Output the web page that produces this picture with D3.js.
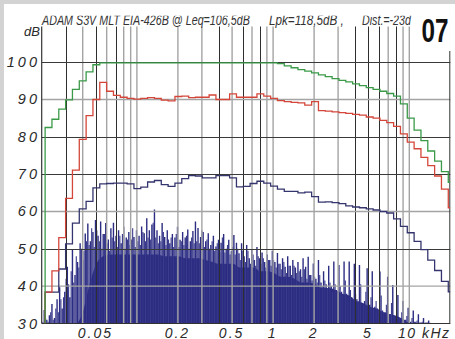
<!DOCTYPE html>
<html><head><meta charset="utf-8">
<script src="https://cdn.jsdelivr.net/npm/d3@7"></script>
<style>body{margin:0;background:#fff}svg{display:block}</style>
</head><body><svg id="c" width="455" height="339"></svg>
<script>
// ---------- data ----------
// 1/6-octave bands, centre k = 20 Hz * 2^(k/6), k = 0..60
const greenMax = [null, 82.5, 84.7, 87.4, 89.9, 92.7, 95.0, 97.4, 99.3,
  99.8, 99.8, 99.8, 99.8, 99.8, 99.8, 99.8, 99.8, 99.8, 99.8, 99.8, 99.8, 99.8,
  99.8, 99.8, 99.8, 99.8, 99.8, 99.8, 99.8, 99.8, 99.8, 99.8, 99.8, 99.8, 99.8,
  99.6, 99.0, 98.5, 98.0, 97.6, 97.1, 96.6, 96.1, 95.6, 95.1, 94.7, 94.2, 93.7,
  93.2, 92.7, 92.2, 91.6, 90.9, 88.8, 85.0, 81.8, 79.0, 76.2, 73.5, 70.7, 67.8];
const redLevel = [null, 38.4, 44.1, 53.0, 63.5, 71.1, 79.3, 85.7, 90.0, 94.6,
  92.2, 91.1, 90.6, 90.3, 90.1, 90.3, 90.5, 90.3, 89.8, 89.6, 90.8, 90.9, 90.5,
  90.6, 90.6, 91.2, 90.0, 90.0, 91.5, 90.6, 90.6, 90.6, 91.5, 90.9, 90.3, 89.7,
  89.4, 89.2, 89.1, 88.5, 89.4, 87.0, 86.9, 86.7, 86.5, 86.3, 86.0, 85.8, 85.3,
  85.0, 84.4, 83.8, 82.8, 80.8, 78.6, 76.8, 74.5, 72.3, 69.5, 66.0, 61.0];
const navyLevel = [null, 38.4, 38.4, 44.6, 51.3, 56.9, 60.7, 62.7, 66.3, 67.4,
  67.5, 67.6, 67.6, 67.4, 66.1, 66.5, 67.9, 68.3, 67.2, 66.7, 67.6, 68.8, 69.6,
  69.5, 69.0, 69.0, 69.6, 69.6, 69.0, 66.6, 66.7, 67.5, 68.1, 67.6, 66.8, 66.0,
  65.4, 65.4, 65.0, 65.2, 64.0, 62.5, 62.6, 62.4, 62.1, 61.5, 61.2, 61.0, 60.7,
  60.4, 60.0, 59.6, 58.0, 56.0, 54.3, 52.0, 49.8, 47.0, 44.2, 41.3, 38.5];
// dense part of the FFT spectrum, per 1/6-octave band
const specBody = [30, 30, 30, 30, 30, 30, 33, 40.5, 46, 48, 48.5, 48.5, 48.5,
  48.5, 48.5, 48.5, 48.5, 48.5, 48, 48, 48, 47.5, 47.5, 47.5, 47,
  46.5, 46, 46, 46, 45, 45, 45, 44, 44, 43.5, 42.5, 42.5, 42, 41, 41, 40.5,
  39.5, 39.5, 39, 38, 37.5, 36, 35.5, 34.5, 34, 33, 32.5, 32, 31, 30, 30, 30, 30, 30, 30, 30];
// spectrum spike tops, 1/16-octave steps from 20 Hz
const specPeak = [30.5, 33.6, 31, 32.2, 35.2, 31.5, 36.5, 39.7, 34, 38.5,
  45.2, 37, 49.7, 43, 46.5, 51.5, 47, 54.1, 56.8, 52,
  54.5, 57.7, 53.5, 57.3, 54, 56.9, 52.5, 55.5, 57, 53.5,
  55, 51.5, 55.9, 53, 54.5, 52.5, 53.2, 55, 53.5, 56,
  54.2, 58.2, 55, 56.5, 60.5, 55, 53.5, 56.9, 53.2, 55,
  51.5, 54, 53, 55.9, 52.4, 54.5, 53, 55.2, 52, 54.8,
  57.3, 55.6, 53.2, 54.5, 52, 54.2, 51, 53.5, 50.6, 52.4,
  51.6, 54, 50, 52.4, 49.5, 53.7, 51.6, 48.8, 51.5, 48,
  51, 47.5, 49.8, 47, 50.5, 47.5, 49, 46.5, 48.5, 47,
  49.5, 46.5, 48.9, 46, 47.5, 45.2, 48, 45.5, 47, 45,
  46.5, 44.5, 47.5, 45.2, 47.9, 43, 46.1, 42, 47, 41,
  44, 40.5, 45.5, 40, 46.6, 39, 45.7, 38.5, 46.6, 38,
  46.6, 37, 46, 36.5, 45.7, 35.5, 36, 44.8, 35, 44,
  34.5, 34, 43.9, 33.5, 33, 42.5, 32.5, 40.3, 32, 37.6,
  31.5, 36, 31, 34.2, 30.5, 33.5, 30.5, 32.5, 30.3, 31.5,
  30.3, 30.8];
// secondary spike tops, half-way between the main ones
const specPeakMid = [30.3, 31.5, 30.5, 33, 31, 34, 33, 36.5, 37, 42, 40.5, 44, 41, 48, 45, 50, 49.5, 52,
  51, 55.5, 50.5, 55, 52, 50, 54, 51.5, 49.5, 53, 52, 50.5, 53.5,
  54, 50, 52.5, 51, 55.5, 50.5, 52, 51, 54.5, 52, 53, 52.5, 57, 53, 51.5,
  52, 54.5, 51, 52.5, 53, 50.5, 54, 50.5, 52, 51, 53.5, 50, 53, 51.5, 52,
  51.5, 55, 50.5, 52.5, 50, 52, 49.5, 51.5, 49, 53, 49, 51, 48.5, 50.5, 48.5, 50,
  47, 49.5, 46.5, 49.5, 46, 48.5, 45.5, 48, 46, 47.5, 45, 47, 45.5, 47, 45,
  46, 44.5, 46.5, 43.5, 45.5, 43, 45.5, 43.5, 44, 42.5, 44.5, 42, 43,
  41.5, 42.5, 41, 43, 40, 41.5, 39.5, 41, 38.5, 40.5, 38, 40, 37.5, 41.5, 37, 39,
  36.5, 38, 36, 40.5, 35, 38.5, 34.5, 37, 34, 36, 33.5, 37.5, 33, 35, 32.5, 35.5,
  32, 33.5, 31.5, 33, 31, 32, 30.8, 31.5, 30.5, 30.8, 30.3, 30.5, 30.2, 30.3, 30.2];
const freqTicks = [30,40,50,60,70,80,90,100,200,300,400,500,600,700,800,900,
  1000,2000,3000,4000,5000,6000,7000,8000,9000,10000];
const darkFreqTicks = [30,50,70,400,600,800,4000,5000,6000,8000];
const dbTicks = [40,50,60,70,80,90,100];
const darkDbTicks = [50,70,80,100];
const dbLabels = [30,40,50,60,70,80,90,100];
const xLabelHz = [50,200,500,1000,2000,5000];
const xLabelText = ["0.05","0.2","0.5","1","2","5"];
const titleParts = ["ADAM S3V MLT EIA-426B @ Leq=106,5dB", "Lpk=118,5dB ,", "Dist.=-23d"];

// ---------- drawing ----------
const svg = d3.select("#c");
const L = 41.7, R = 450.3, B = 323.5;
const x = d3.scaleLog().domain([20, 20000]).range([L, R]);
const y = d3.scaleLinear().domain([30, 110]).range([B, 24.8]);
const TOP = 26.5;
const FONT = "Liberation Sans, Arial, sans-serif";

svg.append("rect").attr("width",455).attr("height",339).attr("fill","#d3d3d3");
svg.append("rect").attr("x",4).attr("y",4).attr("width",451).attr("height",335).attr("fill","#fff");

const defs = svg.append("defs");
defs.append("clipPath").attr("id","plot").append("rect")
  .attr("x",L).attr("y",TOP).attr("width",R-L).attr("height",B-TOP);
defs.append("clipPath").attr("id","ttl").append("rect")
  .attr("x",0).attr("y",15.8).attr("width",455).attr("height",20);

const bandLo = k => 20 * Math.pow(2, (k - 0.5) / 6);
const bandC = k => 20 * Math.pow(2, k / 6);
const navy = "#2c2d82";

// spectrum body
const gp = svg.append("g").attr("clip-path","url(#plot)");
const bodyPts = specBody.map((v,k) => [bandC(k), v]);
gp.append("path").datum(bodyPts)
  .attr("d", d3.area().x(d => x(d[0])).y0(y(30)).y1(d => y(d[1])).curve(d3.curveMonotoneX))
  .attr("fill", navy);
// spikes
const specHz = specPeak.map((v,n) => 20 * Math.pow(2, n / 16));
const specHzMid = specPeakMid.map((v,n) => 20 * Math.pow(2, (n + 0.5) / 16));
gp.selectAll("line.sm").data(specPeakMid).join("line").attr("class","sm")
  .attr("x1",(d,n)=>x(specHzMid[n])).attr("x2",(d,n)=>x(specHzMid[n]))
  .attr("y1", y(30)).attr("y2", d => y(d))
  .attr("stroke", "#3a3b8c").attr("stroke-width", 1.1);
gp.selectAll("line.sp").data(specPeak).join("line").attr("class","sp")
  .attr("x1",(d,n)=>x(specHz[n])).attr("x2",(d,n)=>x(specHz[n]))
  .attr("y1", y(30)).attr("y2", d => y(d))
  .attr("stroke", navy).attr("stroke-width", 1.4);

// grid
const isDarkF = f => darkFreqTicks.includes(f);
svg.append("g").selectAll("line").data(freqTicks).join("line")
  .attr("x1", f => isDarkF(f) ? Math.round(x(f))+0.5 : x(f))
  .attr("x2", f => isDarkF(f) ? Math.round(x(f))+0.5 : x(f))
  .attr("y1", TOP).attr("y2", B)
  .attr("stroke", f => isDarkF(f) ? "#2e2e2e" : "#a4a4a4")
  .attr("stroke-width", f => isDarkF(f) ? 1 : 1.4);
svg.append("g").selectAll("line").data(dbTicks).join("line")
  .attr("x1", L).attr("x2", R)
  .attr("y1", d => darkDbTicks.includes(d) ? Math.round(y(d))+0.5 : y(d))
  .attr("y2", d => darkDbTicks.includes(d) ? Math.round(y(d))+0.5 : y(d))
  .attr("stroke", d => darkDbTicks.includes(d) ? "#3a3a3a" : "#a4a4a4")
  .attr("stroke-width", d => darkDbTicks.includes(d) ? 1 : 1.4);

// frame
svg.append("line").attr("x1",L).attr("x2",L).attr("y1",TOP).attr("y2",B).attr("stroke","#333").attr("stroke-width",1.2);
svg.append("line").attr("x1",L).attr("x2",R).attr("y1",B).attr("y2",B).attr("stroke","#333").attr("stroke-width",1.2);
svg.append("line").attr("x1",R-0.5).attr("x2",R-0.5).attr("y1",TOP).attr("y2",B).attr("stroke","#333").attr("stroke-width",1);

// step series
function stepPts(vals) {
  const pts = [[bandLo(1), 30]];
  for (let k = 1; k < vals.length; k++) pts.push([bandLo(k), vals[k]]);
  pts.push([20000, vals[vals.length-1]]);
  return pts;
}
const stepLine = d3.line().x(d => x(d[0])).y(d => y(d[1])).curve(d3.curveStepAfter);
const gs = svg.append("g").attr("clip-path","url(#plot)");
[[navyLevel,"#34356e"],[redLevel,"#d4463a"],[greenMax,"#3a9a48"]].forEach(([v,c]) => {
  gs.append("path").datum(stepPts(v)).attr("d", stepLine)
    .attr("fill","none").attr("stroke", c).attr("stroke-width", 1.3);
});

// y labels
svg.append("g").selectAll("text").data(dbLabels).join("text")
  .attr("x", 40).attr("y", d => y(d) + 5)
  .attr("text-anchor","end")
  .attr("font-family",FONT).attr("font-style","italic")
  .attr("font-size", 14.5).attr("letter-spacing", 3).attr("fill","#2a2a2a")
  .text(d => d);
svg.append("text").attr("x", 40).attr("y", 36).attr("text-anchor","end")
  .attr("font-family",FONT).attr("font-style","italic")
  .attr("font-size", 13).attr("fill","#2a2a2a").text("dB");

// x labels
svg.append("g").selectAll("text").data(xLabelHz).join("text")
  .attr("x", d => x(d) - 0.5).attr("y", 337.5).attr("text-anchor","middle")
  .attr("font-family",FONT).attr("font-style","italic")
  .attr("font-size", 14).attr("letter-spacing", 2).attr("fill","#2a2a2a")
  .text((d,i) => xLabelText[i]);
svg.append("text").attr("x", 398).attr("y", 337.5)
  .attr("font-family",FONT).attr("font-style","italic")
  .attr("font-size", 14).attr("letter-spacing", 1.5).attr("fill","#2a2a2a").text("10 kHz");

// title (condensed by a horizontal scale; top of the line cut off as in the scan)
const tg = svg.append("g").attr("clip-path","url(#ttl)");
const tx = [[42, 208], [269, 75], [362, 49]];
titleParts.forEach((t,i) => {
  const el = tg.append("text").attr("x", 0).attr("y", 0)
    .attr("font-family", FONT).attr("font-style","italic")
    .attr("font-size", 14.5).attr("fill","#333").text(t);
  const w = el.node().getComputedTextLength();
  el.attr("transform", `translate(${tx[i][0]},24.5) scale(${tx[i][1] / w},1)`);
});

// panel number box
svg.append("rect").attr("x", 413).attr("y", 4).attr("width", 42).attr("height", 47).attr("fill","#fff");
const n07 = svg.append("text").attr("x", 0).attr("y", 0)
  .attr("font-family", FONT).attr("font-weight","bold").attr("font-size", 33)
  .attr("fill","#111").text("07");
const w07 = n07.node().getComputedTextLength();
n07.attr("transform", `translate(421.5,42) scale(${27 / w07},1)`);
</script></body></html>
